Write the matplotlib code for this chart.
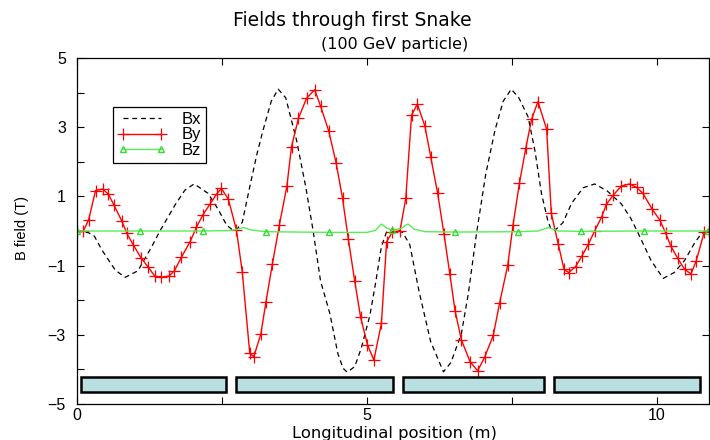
import numpy as np
import matplotlib.pyplot as plt
from matplotlib.patches import Rectangle
from matplotlib.ticker import MultipleLocator

plt.rcParams['font.family'] = ['Liberation Sans', 'DejaVu Sans']

# Bx (dashed)
bx_x = [0, 0.2, 0.3, 0.43, 0.66, 0.83, 1.05, 1.29, 1.43, 1.69, 1.86, 2.02, 2.26, 2.44, 2.58,
        2.67, 2.75, 2.85, 2.98, 3.1, 3.21, 3.35, 3.47, 3.6, 3.79, 3.95, 4.07, 4.2, 4.36,
        4.5, 4.59, 4.66, 4.79, 4.9, 5.05, 5.15, 5.25, 5.34, 5.45, 5.55, 5.62, 5.74, 5.9,
        6.1, 6.32, 6.45, 6.63, 6.75, 6.89, 7.05, 7.21, 7.35, 7.49, 7.62, 7.78, 7.9, 8.01,
        8.12, 8.18, 8.25, 8.38, 8.53, 8.73, 8.93, 9.15, 9.39, 9.55, 9.68, 9.9, 10.11, 10.3,
        10.48, 10.65, 10.77, 10.88]
bx_y = [0, -0.05, -0.15, -0.55, -1.13, -1.34, -1.15, -0.45, 0.0, 0.75, 1.18, 1.36, 1.09, 0.61, 0.17,
        0.05, 0.03, 0.25, 1.28, 2.2, 2.92, 3.75, 4.1, 3.85, 2.6, 1.23, 0.03, -1.44, -2.38,
        -3.55, -3.97, -4.08, -3.92, -3.4, -2.45, -1.5, -0.45, -0.02, 0.05, 0.02, -0.05, -0.4, -1.75,
        -3.2, -4.07, -3.8, -2.96, -1.8, -0.07, 1.65, 2.92, 3.75, 4.1, 3.85, 3.3, 2.3, 1.09,
        0.3, 0.03, 0.03, 0.24, 0.8, 1.25, 1.36, 1.15, 0.78, 0.37, -0.07, -0.85, -1.37, -1.2,
        -0.85, -0.35, -0.07, 0.0]

# By (solid with + markers)
by_x = [0.0, 0.11, 0.20, 0.32, 0.44, 0.54, 0.64, 0.77, 0.86, 0.97, 1.11, 1.23, 1.34, 1.45, 1.59,
        1.68, 1.80, 1.95, 2.06, 2.17, 2.29, 2.41, 2.49, 2.61, 2.75, 2.85, 2.98, 3.05, 3.17,
        3.26, 3.37, 3.49, 3.62, 3.70, 3.82, 3.96, 4.10, 4.20, 4.34, 4.47, 4.58, 4.68, 4.79,
        4.89, 5.01, 5.12, 5.25, 5.34, 5.44, 5.57, 5.67, 5.77, 5.87, 6.00, 6.10, 6.22, 6.33,
        6.43, 6.52, 6.63, 6.78, 6.91, 7.03, 7.18, 7.29, 7.43, 7.52, 7.63, 7.74, 7.84, 7.95,
        8.10, 8.18, 8.30, 8.40, 8.48, 8.60, 8.71, 8.82, 8.93, 9.05, 9.13, 9.25, 9.39, 9.53,
        9.65, 9.76, 9.92, 10.05, 10.15, 10.24, 10.36, 10.48, 10.59, 10.68, 10.82, 10.90]
by_y = [0.0, 0.0, 0.32, 1.17, 1.21, 1.07, 0.74, 0.30, -0.07, -0.40, -0.79, -1.05, -1.30, -1.34, -1.30,
        -1.15, -0.76, -0.31, 0.11, 0.46, 0.77, 1.07, 1.23, 0.92, 0.03, -1.18, -3.54, -3.63, -2.98,
        -2.04, -0.95, 0.17, 1.30, 2.44, 3.26, 3.84, 4.08, 3.61, 2.90, 1.96, 0.94, -0.24, -1.45,
        -2.48, -3.29, -3.73, -2.67, -0.31, -0.02, 0.0, 0.94, 3.35, 3.67, 3.03, 2.15, 1.09, -0.09,
        -1.24, -2.30, -3.15, -3.78, -4.04, -3.65, -3.01, -2.07, -0.98, 0.17, 1.38, 2.39, 3.23, 3.74,
        2.94, 0.51, -0.38, -1.11, -1.20, -1.03, -0.72, -0.38, 0.01, 0.41, 0.77, 1.04, 1.30, 1.36,
        1.26, 1.09, 0.63, 0.32, -0.05, -0.43, -0.79, -1.11, -1.24, -0.86, -0.02, 0.0]

# Bz (solid with triangles)
bz_x = [0, 1.09, 2.17, 2.6, 2.75, 2.87, 3.0, 3.26, 4.34, 5.0, 5.15, 5.2, 5.25, 5.35, 5.44,
        5.6, 5.66, 5.71, 5.82, 6.0, 6.52, 7.6, 7.95, 8.13, 8.3, 8.69, 9.78, 10.88]
bz_y = [0, 0, 0, 0.01, 0.04, 0.1, 0.03, -0.02, -0.04, -0.04, 0.02, 0.12, 0.2, 0.08, 0.02,
        0.08, 0.16, 0.2, 0.05, -0.02, -0.03, -0.02, 0.0, 0.1, 0.0, -0.01, 0.0, 0.0]
bz_marks = [0, 1.09, 2.17, 3.26, 4.34, 5.44, 6.52, 7.6, 8.69, 9.78, 10.88]

# magnets (start, end) in m
mag_start = [0.07, 2.74, 5.62, 8.22]
mag_end = [2.57, 5.45, 8.05, 10.74]

fig = plt.figure(figsize=(7.1, 4.4), dpi=100)
ax = fig.add_axes([77/710, 36/440, 632/710, 346/440])

ax.plot(bx_x, bx_y, color='black', ls=(0, (4, 3)), lw=0.9, label='Bx')
ax.plot(by_x, by_y, color='red', lw=1.0, marker='+', ms=9, mew=0.9, label='By')
ax.plot(bz_x, bz_y, color='#55ee55', lw=1.0, marker='^', ms=4, mfc='none', mec='#33dd33',
        markevery=[bz_x.index(v) for v in bz_marks], label='Bz')

for s, e in zip(mag_start, mag_end):
    ax.add_patch(Rectangle((s, -4.65), e - s, 0.43, facecolor='#badfe1', edgecolor='black', lw=1.8, zorder=3))

ax.set_xlim(0, 10.9)
ax.set_ylim(-5, 5)
ax.xaxis.set_major_locator(MultipleLocator(5))
ax.xaxis.set_minor_locator(MultipleLocator(2.5))
ax.set_yticks([-5, -3, -1, 1, 3, 5])
ax.set_yticks([-4, -2, 0, 2, 4], minor=True)
ax.tick_params(which='both', direction='in', top=True, right=True, labelsize=11.5, width=0.8, length=5)
ax.tick_params(axis='y', pad=8)
ax.tick_params(axis='x', pad=3)
ax.tick_params(which='minor', right=False)
for sp in ax.spines.values():
    sp.set_linewidth(0.9)

ax.set_xlabel('Longitudinal position (m)', fontsize=11.8, family='DejaVu Sans', va='center')
ax.xaxis.set_label_coords(0.503, -0.085)
ax.set_ylabel('B field (T)', fontsize=10.5, va='center')
ax.yaxis.set_label_coords((22 - 77) / 632, 0.51)

fig.text(0.496, 1 - 20/440, 'Fields through first Snake', ha='center', va='center',
         fontsize=13.5, family='DejaVu Sans')
fig.text(0.556, 1 - 45/440, '(100 GeV particle)', ha='center', va='center',
         fontsize=11.5, family='DejaVu Sans')

leg = ax.legend(loc='upper left', bbox_to_anchor=(0.057, 0.858), fontsize=12, numpoints=2,
                handlelength=2.9, handletextpad=0.9, borderpad=0.3, labelspacing=0.02,
                fancybox=False, framealpha=1, borderaxespad=0)
leg.get_frame().set_edgecolor('black')
leg.get_frame().set_linewidth(0.9)

fig.savefig('out.png', dpi=100)
